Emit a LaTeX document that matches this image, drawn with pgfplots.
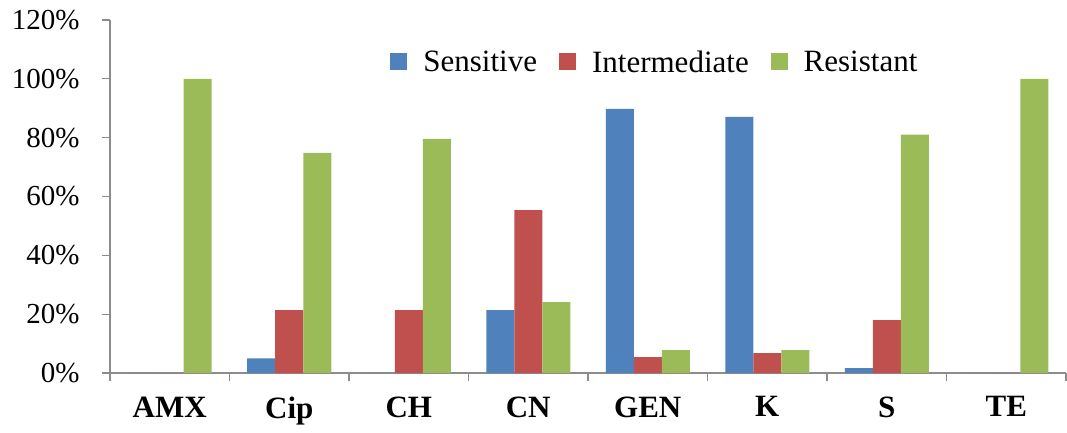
\documentclass[border=0pt]{standalone}
\usepackage{pgfplots}
\pgfplotsset{compat=1.18}
\usepackage{fontspec}
\setmainfont{Liberation Serif}
\definecolor{cS}{HTML}{4F81BD}
\definecolor{cI}{HTML}{C0504D}
\definecolor{cR}{HTML}{9BBB59}
\definecolor{axgray}{HTML}{8C8C8C}
\begin{document}
\begin{tikzpicture}
\useasboundingbox (-110pt,-59pt) rectangle (957pt,373pt);
\begin{axis}[
  at={(0pt,0pt)}, anchor=south west,
  scale only axis, width=956pt, height=353pt,
  ybar=0pt, bar width=28pt,
  xmin=-0.5, xmax=7.5, ymin=0, ymax=120,
  axis lines=left, axis line style={-, draw=axgray, line width=1.3pt},
  xtick={0,...,7},
  xticklabels={AMX,Cip,CH,CN,GEN,K,S,TE},
  minor xtick={-0.5,0.5,...,7.5},
  major x tick style={draw=none},
  minor x tick style={draw=axgray, line width=1.3pt},
  minor tick length=8pt,
  ytick={0,20,...,120},
  yticklabel={\pgfmathprintnumber{\tick}\%},
  /pgf/number format/assume math mode=true,
  y tick style={draw=axgray, line width=1.3pt},
  major tick length=8pt,
  tick align=outside,
  xticklabel style={font=\fontsize{31}{34}\selectfont\bfseries, yshift=-12pt},
  yticklabel style={font=\fontsize{29}{33}\selectfont, xshift=-19pt},
  legend style={at={(0.29,0.88)}, anchor=west, draw=none, fill=none,
    legend columns=-1, font=\fontsize{31}{34}\selectfont,
    /tikz/every odd column/.append style={column sep=14pt},
    /tikz/every even column/.append style={column sep=20pt}},
  legend image code/.code={\fill[#1] (0pt,-8pt) rectangle (17pt,9pt);},
]
\addplot[fill=cS, draw=none] coordinates {(0,0) (1,5) (2,0) (3,21.4) (4,89.8) (5,87.1) (6,1.7) (7,0)};
\addplot[fill=cI, draw=none] coordinates {(0,0) (1,21.4) (2,21.4) (3,55.4) (4,5.4) (5,6.8) (6,18) (7,0)};
\addplot[fill=cR, draw=none] coordinates {(0,100) (1,74.8) (2,79.6) (3,24.1) (4,7.8) (5,7.8) (6,81) (7,100)};
\legend{Sensitive,Intermediate,Resistant}
\end{axis}
\end{tikzpicture}
\end{document}
